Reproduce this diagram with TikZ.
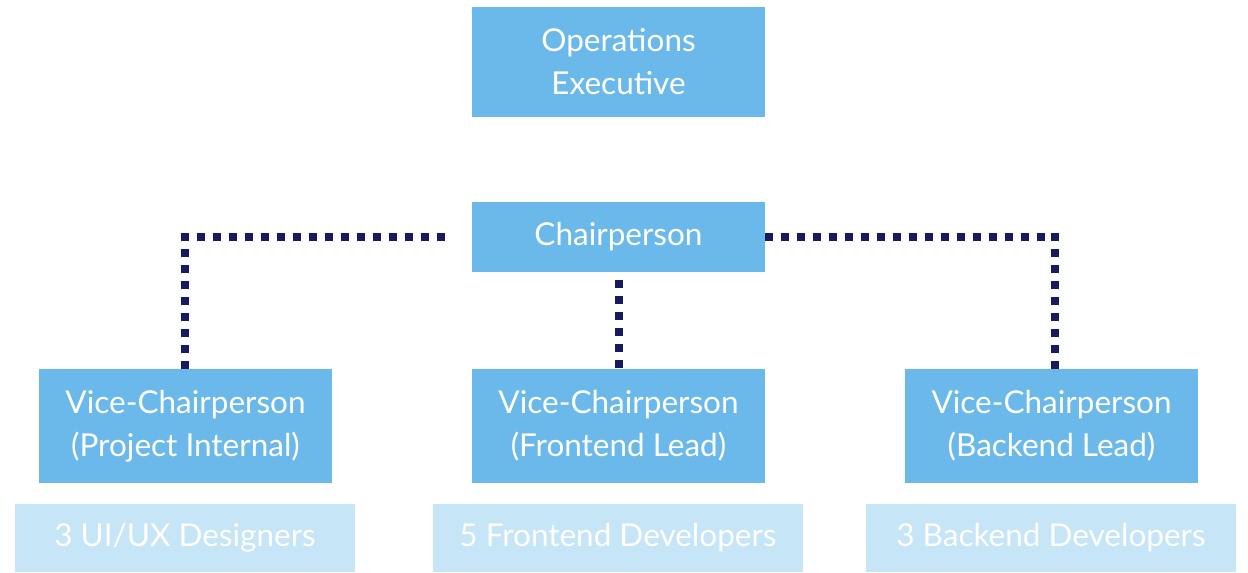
\documentclass[tikz,border=0pt]{standalone}
\usepackage{fontspec}
\setmainfont{Lato}
\usetikzlibrary{calc,backgrounds}
\definecolor{boxblue}{HTML}{6BB9EA}
\definecolor{lightblue}{HTML}{C6E5F6}
\definecolor{navy}{HTML}{171A5C}
\tikzset{
  mainbox/.style={fill=boxblue, draw=none, text=white, align=center, inner sep=0pt,
    minimum width=293pt, font=\fontsize{31.5}{43}\selectfont},
  teambox/.style={fill=lightblue, draw=none, text=white, align=center, inner sep=0pt,
    minimum height=68pt, font=\fontsize{31.5}{43}\selectfont},
  dotline/.style={draw=navy, line width=8pt, line cap=butt, dash pattern=on 8pt off 8pt}
}
\begin{document}
\begin{tikzpicture}[x=1pt,y=-1pt]
\useasboundingbox (0,0) rectangle (1248,573);
\node[mainbox, minimum height=110pt] (ops) at (618.5,62) {Operations\\Executive};
\node[mainbox, minimum height=70pt] (chair) at (618.5,237) {Chairperson};
\node[mainbox, minimum height=114pt] (v1) at (185.5,426) {Vice-Chairperson\\(Project Internal)};
\node[mainbox, minimum height=114pt] (v2) at (618.5,426) {Vice-Chairperson\\(Frontend Lead)};
\node[mainbox, minimum height=114pt] (v3) at (1051.5,426) {Vice-Chairperson\\(Backend Lead)};
\node[teambox, minimum width=340pt] (t1) at (185,538) {3 UI/UX Designers};
\node[teambox, minimum width=370pt] (t2) at (618,538) {5 Frontend Developers};
\node[teambox, minimum width=370pt] (t3) at (1051,538) {3 Backend Developers};
\coordinate (cL) at (185,237);
\coordinate (cR) at (1055,237);
\begin{pgfonlayer}{background}
\fill[white] (0,0) rectangle (1248,573);
\draw[dotline] ($(cL)+(-4,0)$) -- ($(chair.west)+(-25,0)$);
\draw[dotline] ($(cL)+(0,-4)$) -- (cL |- v1.north);
\draw[dotline] (chair.east) -- ($(cR)+(4,0)$);
\draw[dotline] ($(cR)+(0,-4)$) -- (cR |- v3.north);
\draw[dotline] ($(chair.south)+(0,-8)$) -- (v2.north);
\end{pgfonlayer}
\end{tikzpicture}
\end{document}
